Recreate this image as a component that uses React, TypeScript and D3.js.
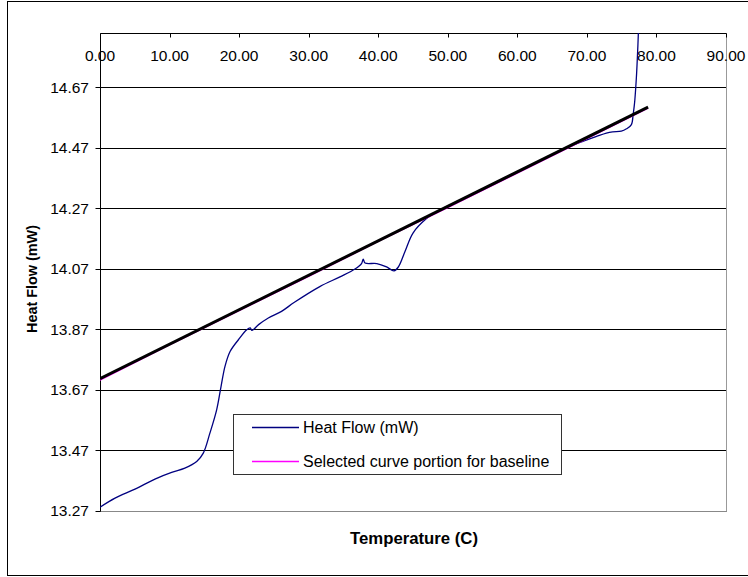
import { useMemo } from "react";
import * as d3 from "d3";

// Heat flow curve
const heatTemp = [
  0, 2.16, 5.03, 7.9, 10.3, 12.2, 13.9, 14.85, 15.8, 16.77, 17.4, 17.97, 18.7,
  19.9, 21.1, 21.6, 21.85, 22.8, 24.2, 26.1, 27.95, 31.6, 34.5, 36.66, 37.6,
  37.85, 38.1, 39.8, 41.2, 42.27, 42.9, 43.85, 45.0, 46.9, 48.4, 50, 55, 60,
  65, 67.6, 69.5, 71.4, 72.8, 73.7, 74.95, 75.7, 76.4, 76.65, 76.8, 76.9, 77.1,
  77.2, 77.4, 77.5,
];
const heatFlow = [
  13.281, 13.311, 13.341, 13.374, 13.396, 13.41, 13.432, 13.46, 13.526, 13.603,
  13.68, 13.747, 13.796, 13.835, 13.868, 13.874, 13.866, 13.885, 13.907,
  13.929, 13.959, 14.011, 14.043, 14.069, 14.087, 14.102, 14.089, 14.087,
  14.076, 14.063, 14.076, 14.127, 14.188, 14.235, 14.258, 14.276, 14.333,
  14.39, 14.447, 14.475, 14.492, 14.508, 14.519, 14.523, 14.525, 14.533,
  14.547, 14.58, 14.607, 14.63, 14.697, 14.74, 14.85, 14.95,
];

// Selected curve portion for baseline (magenta)
const selTemp = [0, 10, 20, 30, 40, 50, 60, 70, 78.8];
const selFlow = [
  13.701, 13.818, 13.931, 14.044, 14.16, 14.272, 14.386, 14.5, 14.601,
];

// Baseline trend line (black)
const trendTemp = [0, 78.8];
const trendFlow = [13.706, 14.605];

const xTicks = [0, 10, 20, 30, 40, 50, 60, 70, 80, 90];
const yTicks = [13.27, 13.47, 13.67, 13.87, 14.07, 14.27, 14.47, 14.67];
const yMax = 14.85;

const legendItems = [
  { label: "Heat Flow (mW)", color: "#000080" },
  { label: "Selected curve portion for baseline", color: "#ff00ff" },
];

const font = "'Liberation Sans', Arial, sans-serif";

export default function App() {
  const width = 748;
  const height = 577;
  const plot = { left: 100, right: 726, top: 33, bottom: 510.5 };

  const xScale = useMemo(
    () => d3.scaleLinear().domain([0, 90]).range([plot.left, plot.right]),
    []
  );
  const yScale = useMemo(
    () => d3.scaleLinear().domain([13.27, yMax]).range([plot.bottom, plot.top]),
    []
  );

  const smooth = useMemo(
    () =>
      d3
        .line<[number, number]>()
        .x((d) => xScale(d[0]))
        .y((d) => yScale(d[1]))
        .curve(d3.curveCatmullRom.alpha(0.5)),
    [xScale, yScale]
  );
  const straight = useMemo(
    () =>
      d3
        .line<[number, number]>()
        .x((d) => xScale(d[0]))
        .y((d) => yScale(d[1])),
    [xScale, yScale]
  );

  const heatPath = smooth(heatTemp.map((t, i) => [t, heatFlow[i]]));
  const selPath = straight(selTemp.map((t, i) => [t, selFlow[i]]));
  const trendPath = straight(trendTemp.map((t, i) => [t, trendFlow[i]]));

  const snap = (v: number) => Math.round(v) + 0.5;
  const top = snap(plot.top);
  const bottom = snap(plot.bottom);
  const left = snap(plot.left);
  const right = snap(plot.right);

  return (
    <svg
      width={width}
      height={height}
      style={{ position: "absolute", left: 0, top: 0, background: "#fff" }}
      fontFamily={font}
    >
      {/* chart frame */}
      <rect x={7.5} y={1.5} width={780} height={574} fill="#fff" stroke="#000" />

      <defs>
        <clipPath id="plotClip">
          <rect x={plot.left} y={plot.top} width={plot.right - plot.left} height={plot.bottom - plot.top} />
        </clipPath>
      </defs>

      {/* grid lines */}
      {yTicks.map((t) => (
        <line key={`g-${t}`} x1={left} x2={right} y1={snap(yScale(t))} y2={snap(yScale(t))} stroke="#000" />
      ))}

      {/* plot area border (right / bottom) */}
      <line x1={right} x2={right} y1={top} y2={bottom} stroke="#999" />
      <line x1={left} x2={right} y1={bottom} y2={bottom} stroke="#888" />

      {/* y axis */}
      <line x1={left} x2={left} y1={top} y2={bottom} stroke="#000" />
      {yTicks.map((t) => (
        <g key={`y-${t}`}>
          <line x1={left - 5} x2={left} y1={snap(yScale(t))} y2={snap(yScale(t))} stroke="#000" />
          <text
            x={89}
            y={yScale(t)}
            textAnchor="end"
            dominantBaseline="central"
            fontSize={15.5}
          >
            {t.toFixed(2)}
          </text>
        </g>
      ))}

      {/* x axis at top */}
      <line x1={left} x2={right} y1={top} y2={top} stroke="#000" />
      {xTicks.map((t) => (
        <g key={`x-${t}`}>
          <line x1={snap(xScale(t))} x2={snap(xScale(t))} y1={top} y2={top + 4} stroke="#000" />
          <text x={xScale(t)} y={61} textAnchor="middle" fontSize={15.5}>
            {t.toFixed(2)}
          </text>
        </g>
      ))}

      {/* series */}
      <g clipPath="url(#plotClip)">
        <path d={heatPath ?? ""} fill="none" stroke="#000080" strokeWidth={1.3} />
        <path d={selPath ?? ""} fill="none" stroke="#ff00ff" strokeWidth={1.2} />
        <path d={trendPath ?? ""} fill="none" stroke="#000" strokeWidth={3} />
      </g>

      {/* axis titles */}
      <text
        x={414}
        y={544}
        textAnchor="middle"
        fontSize={16}
        fontWeight="bold"
        textLength={128}
        lengthAdjust="spacingAndGlyphs"
      >
        Temperature (C)
      </text>
      <text
        transform="translate(37,279) rotate(-90)"
        textAnchor="middle"
        fontSize={15}
        fontWeight="bold"
        textLength={108}
        lengthAdjust="spacingAndGlyphs"
      >
        Heat Flow (mW)
      </text>

      {/* legend */}
      <rect x={233.5} y={414.5} width={328} height={60} fill="#fff" stroke="#333" />
      {legendItems.map((item, i) => {
        const ly = 427 + i * 34;
        return (
          <g key={item.label}>
            <line x1={252} x2={299} y1={ly + 0.5} y2={ly + 0.5} stroke={item.color} strokeWidth={1.3} />
            <text x={303} y={ly} dominantBaseline="central" fontSize={16}>
              {item.label}
            </text>
          </g>
        );
      })}
    </svg>
  );
}
